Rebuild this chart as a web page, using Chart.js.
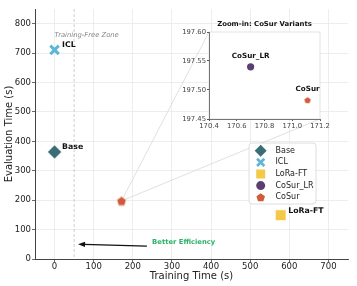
<!DOCTYPE html>
<html><head><meta charset="utf-8">
<script src="https://cdn.jsdelivr.net/npm/chart.js@4/dist/chart.umd.min.js"></script>
<style>
html,body{margin:0;padding:0;background:#fff}
#wrap{position:relative;width:357px;height:286px;overflow:hidden}
#main{position:absolute;left:0;top:0}
#inset{position:absolute;left:176px;top:14px}
</style></head><body>
<div id="wrap">
<canvas id="main" width="357" height="286"></canvas>
<canvas id="inset" width="160" height="132"></canvas>
</div>
<script>
// ---- data ----
const methods = ['Base', 'ICL', 'LoRa-FT', 'CoSur_LR', 'CoSur'];
const trainingTime = [0, 0, 578, 170.7, 171.11];
const evalTime = [364, 711, 149, 197.54, 197.483];
const colors = ['#3b6d75', '#5fb5d5', '#f4c948', '#5b3f70', '#d05a3c'];
const xTicks = [0, 100, 200, 300, 400, 500, 600, 700];
const yTicks = [0, 100, 200, 300, 400, 500, 600, 700, 800];
const insetXTicks = [170.4, 170.6, 170.8, 171.0, 171.2];
const insetYTicks = [197.45, 197.50, 197.55, 197.60];
const labeledMain = ['Base', 'ICL', 'LoRa-FT'];
const labeledInset = ['CoSur_LR', 'CoSur'];
const zoneLineX = 50;
const zoneText = 'Training-Free Zone';
const zoneTextPos = [82, 760];
const arrowFrom = [236, 44];
const arrowTo = [60, 50];
const effText = 'Better Efficiency';
const effTextPos = [330, 57];

Chart.defaults.font.family = "'DejaVu Sans', sans-serif";
Chart.defaults.animation = false;

function pentagon(r, color, stroke) {
  const s = Math.ceil(2 * r + 3);
  const c = document.createElement('canvas');
  c.width = s; c.height = s;
  const g = c.getContext('2d');
  g.beginPath();
  for (let i = 0; i < 5; i++) {
    const a = -Math.PI / 2 + i * 2 * Math.PI / 5;
    const x = s / 2 + r * Math.cos(a), y = s / 2 + 0.6 + r * Math.sin(a);
    i ? g.lineTo(x, y) : g.moveTo(x, y);
  }
  g.closePath();
  g.fillStyle = color; g.fill();
  if (stroke) { g.strokeStyle = stroke; g.lineWidth = 1; g.stroke(); }
  return c;
}

function drawMarker(ctx, idx, x, y, s) {
  const col = colors[idx];
  ctx.save();
  ctx.fillStyle = col; ctx.strokeStyle = col;
  ctx.beginPath();
  if (idx === 0) {
    ctx.moveTo(x, y - s); ctx.lineTo(x + s, y); ctx.lineTo(x, y + s); ctx.lineTo(x - s, y); ctx.closePath(); ctx.fill();
  } else if (idx === 1) {
    const d = s * 0.7; ctx.lineWidth = 2.6;
    ctx.moveTo(x - d, y - d); ctx.lineTo(x + d, y + d); ctx.moveTo(x + d, y - d); ctx.lineTo(x - d, y + d); ctx.stroke();
  } else if (idx === 2) {
    ctx.rect(x - s * 0.75, y - s * 0.75, s * 1.5, s * 1.5); ctx.fill();
  } else if (idx === 3) {
    ctx.arc(x, y, s * 0.75, 0, Math.PI * 2); ctx.fill();
  } else {
    const r = s * 0.75;
    for (let i = 0; i < 5; i++) {
      const a = -Math.PI / 2 + i * 2 * Math.PI / 5;
      const px = x + r * Math.cos(a), py = y + 0.5 + r * Math.sin(a);
      i ? ctx.lineTo(px, py) : ctx.moveTo(px, py);
    }
    ctx.closePath(); ctx.fill();
  }
  ctx.restore();
}

// ---- inset chart ----
const insetStyles = {
  3: {pointStyle: 'circle', pointRadius: 3.6, borderColor: colors[3], borderWidth: 0},
  4: {pointStyle: pentagon(3.4, colors[4]), pointRadius: 4, borderWidth: 0}
};
const insetDecor = {
  id: 'insetDecor',
  beforeDraw(chart) {
    const {ctx, chartArea: a} = chart;
    ctx.save();
    ctx.fillStyle = '#fff';
    ctx.fillRect(a.left, a.top, a.right - a.left, a.bottom - a.top);
    ctx.strokeStyle = '#dcdcdc'; ctx.lineWidth = 0.8;
    ctx.strokeRect(a.left, a.top, a.right - a.left, a.bottom - a.top);
    ctx.fillStyle = '#111';
    ctx.font = "bold 6.9px 'DejaVu Sans'";
    ctx.textAlign = 'center'; ctx.textBaseline = 'middle';
    ctx.fillText('Zoom-in: CoSur Variants', (a.left + a.right) / 2, a.top - 7.5);
    ctx.restore();
  },
  afterDatasetsDraw(chart) {
    const {ctx, scales: {x, y}} = chart;
    ctx.save();
    ctx.fillStyle = '#111';
    ctx.font = "bold 7.2px 'DejaVu Sans'";
    ctx.textAlign = 'center'; ctx.textBaseline = 'middle';
    labeledInset.forEach(n => {
      const i = methods.indexOf(n);
      ctx.fillText(n, x.getPixelForValue(trainingTime[i]), y.getPixelForValue(evalTime[i]) - 10.5);
    });
    ctx.restore();
  }
};
const insetChart = new Chart(document.getElementById('inset'), {
  type: 'scatter',
  data: {
    datasets: [3, 4].map(i => Object.assign({
      label: methods[i],
      data: [{x: trainingTime[i], y: evalTime[i]}],
      backgroundColor: colors[i],
      order: -i
    }, insetStyles[i]))
  },
  options: {
    responsive: false, animation: false, events: [],
    layout: {padding: {top: 18, right: 16, left: 0, bottom: 0}},
    plugins: {legend: {display: false}, tooltip: {enabled: false}},
    scales: {
      x: {
        type: 'linear', min: insetXTicks[0], max: insetXTicks[insetXTicks.length - 1],
        afterBuildTicks: s => { s.ticks = insetXTicks.map(v => ({value: v})); },
        afterFit: s => { s.height = 27; s.paddingLeft = 0; s.paddingRight = 0; },
        grid: {display: true, drawOnChartArea: false, tickLength: 2, tickColor: '#555'},
        border: {color: '#555', width: 0.8},
        ticks: {font: {size: 6.8}, color: '#444', padding: 1, maxRotation: 0, autoSkip: false, callback: v => Number(v).toFixed(1)}
      },
      y: {
        type: 'linear', min: insetYTicks[0], max: insetYTicks[insetYTicks.length - 1],
        afterBuildTicks: s => { s.ticks = insetYTicks.map(v => ({value: v})); },
        afterFit: s => { s.width = 33; s.paddingTop = 0; s.paddingBottom = 0; },
        grid: {display: true, drawOnChartArea: false, tickLength: 2, tickColor: '#555'},
        border: {color: '#555', width: 0.8},
        ticks: {font: {size: 6.8}, color: '#444', padding: 1, autoSkip: false, callback: v => Number(v).toFixed(2)}
      }
    }
  },
  plugins: [insetDecor]
});

// ---- main chart ----
const INSET_OFF = [176, 14];
const mainStyles = [
  {pointStyle: 'rectRot', pointRadius: 7, borderColor: '#fff', borderWidth: 0.6},
  {pointStyle: 'crossRot', pointRadius: 6, borderColor: colors[1], borderWidth: 3},
  {pointStyle: 'rect', pointRadius: 7.5, borderColor: '#fff', borderWidth: 0.6},
  {pointStyle: 'circle', pointRadius: 3.2, borderColor: colors[3], borderWidth: 0},
  {pointStyle: pentagon(5, colors[4], '#f4e0da'), pointRadius: 6, borderWidth: 0}
];
const mainDecor = {
  id: 'mainDecor',
  beforeDatasetsDraw(chart) {
    const {ctx, scales: {x, y}, chartArea: a} = chart;
    ctx.save();
    // training-free boundary
    const zx = x.getPixelForValue(zoneLineX);
    ctx.strokeStyle = '#c8c8c8'; ctx.lineWidth = 0.9; ctx.setLineDash([3, 2]);
    ctx.beginPath(); ctx.moveTo(zx, a.top); ctx.lineTo(zx, a.bottom); ctx.stroke();
    ctx.setLineDash([]);
    // connector lines to inset
    const ci = methods.indexOf('CoSur');
    const px = x.getPixelForValue(trainingTime[ci]), py = y.getPixelForValue(evalTime[ci]);
    const ia = insetChart.chartArea;
    ctx.strokeStyle = '#d8d8d8'; ctx.lineWidth = 0.8;
    ctx.beginPath();
    ctx.moveTo(px, py); ctx.lineTo(ia.left + INSET_OFF[0], ia.top + INSET_OFF[1]);
    ctx.moveTo(px, py); ctx.lineTo(ia.right + INSET_OFF[0], ia.bottom + INSET_OFF[1]);
    ctx.stroke();
    ctx.restore();
  },
  afterDatasetsDraw(chart) {
    const {ctx, scales: {x, y}} = chart;
    ctx.save();
    // point labels
    ctx.fillStyle = '#111';
    ctx.font = "bold 7.8px 'DejaVu Sans'";
    ctx.textAlign = 'left'; ctx.textBaseline = 'middle';
    labeledMain.forEach(n => {
      const i = methods.indexOf(n);
      ctx.fillText(n, x.getPixelForValue(trainingTime[i]) + 7.5, y.getPixelForValue(evalTime[i]) - 4.5);
    });
    // zone text
    ctx.fillStyle = '#8a8a8a';
    ctx.font = "italic 6.8px 'DejaVu Sans'";
    ctx.textAlign = 'center';
    ctx.fillText(zoneText, x.getPixelForValue(zoneTextPos[0]), y.getPixelForValue(zoneTextPos[1]));
    // arrow
    const x1 = x.getPixelForValue(arrowFrom[0]), y1 = y.getPixelForValue(arrowFrom[1]);
    const x2 = x.getPixelForValue(arrowTo[0]), y2 = y.getPixelForValue(arrowTo[1]);
    const ang = Math.atan2(y2 - y1, x2 - x1);
    const hl = 7, hw = 2.6;
    ctx.strokeStyle = '#111'; ctx.fillStyle = '#111'; ctx.lineWidth = 1.2;
    ctx.beginPath(); ctx.moveTo(x1, y1);
    ctx.lineTo(x2 - Math.cos(ang) * hl * 0.8, y2 - Math.sin(ang) * hl * 0.8); ctx.stroke();
    ctx.beginPath();
    ctx.moveTo(x2, y2);
    ctx.lineTo(x2 - Math.cos(ang) * hl - Math.sin(ang) * hw, y2 - Math.sin(ang) * hl + Math.cos(ang) * hw);
    ctx.lineTo(x2 - Math.cos(ang) * hl + Math.sin(ang) * hw, y2 - Math.sin(ang) * hl - Math.cos(ang) * hw);
    ctx.closePath(); ctx.fill();
    // efficiency text
    ctx.fillStyle = '#2fb36a';
    ctx.font = "bold 6.8px 'DejaVu Sans'";
    ctx.textAlign = 'center';
    ctx.fillText(effText, x.getPixelForValue(effTextPos[0]), y.getPixelForValue(effTextPos[1]));
    ctx.restore();
  },
  afterDraw(chart) {
    const ctx = chart.ctx;
    const bx = 249, by = 143, bw = 67, bh = 61, rr = 3;
    ctx.save();
    ctx.beginPath();
    ctx.moveTo(bx + rr, by); ctx.lineTo(bx + bw - rr, by); ctx.quadraticCurveTo(bx + bw, by, bx + bw, by + rr);
    ctx.lineTo(bx + bw, by + bh - rr); ctx.quadraticCurveTo(bx + bw, by + bh, bx + bw - rr, by + bh);
    ctx.lineTo(bx + rr, by + bh); ctx.quadraticCurveTo(bx, by + bh, bx, by + bh - rr);
    ctx.lineTo(bx, by + rr); ctx.quadraticCurveTo(bx, by, bx + rr, by); ctx.closePath();
    ctx.fillStyle = 'rgba(255,255,255,0.85)'; ctx.fill();
    ctx.strokeStyle = '#d6d6d6'; ctx.lineWidth = 0.8; ctx.stroke();
    const sizes = [6, 5.2, 6, 6, 6];
    methods.forEach((m, i) => {
      const yy = by + 7.8 + i * 11.6;
      drawMarker(ctx, i, bx + 11.7, yy, sizes[i]);
      ctx.fillStyle = '#222';
      ctx.font = "8px 'DejaVu Sans'";
      ctx.textAlign = 'left'; ctx.textBaseline = 'middle';
      ctx.fillText(m, bx + 26.5, yy);
    });
    ctx.restore();
  }
};

new Chart(document.getElementById('main'), {
  type: 'scatter',
  data: {
    datasets: methods.map((m, i) => Object.assign({
      label: m,
      data: [{x: trainingTime[i], y: evalTime[i]}],
      backgroundColor: colors[i],
      order: -i
    }, mainStyles[i]))
  },
  options: {
    responsive: false, animation: false, events: [],
    layout: {padding: {top: 5, right: 1, left: 0, bottom: 0}},
    plugins: {legend: {display: false}, tooltip: {enabled: false}},
    scales: {
      x: {
        type: 'linear', min: -50, max: 750,
        afterBuildTicks: s => { s.ticks = xTicks.map(v => ({value: v})); },
        afterFit: s => { s.height = 27; },
        grid: {color: '#e9e9e9', lineWidth: 0.8, tickLength: 3, tickColor: '#444'},
        border: {color: '#444', width: 1},
        ticks: {font: {size: 8.5}, color: '#222', padding: 0, maxRotation: 0, autoSkip: false},
        title: {display: true, text: 'Training Time (s)', font: {size: 10}, color: '#222', padding: {top: 0, bottom: 4}}
      },
      y: {
        type: 'linear', min: 0, max: 850,
        afterBuildTicks: s => { s.ticks = yTicks.map(v => ({value: v})); },
        afterFit: s => { s.width = 35; },
        grid: {color: '#e9e9e9', lineWidth: 0.8, tickLength: 3, tickColor: '#444'},
        border: {color: '#444', width: 1},
        ticks: {font: {size: 8.5}, color: '#222', padding: 1, autoSkip: false},
        title: {display: true, text: 'Evaluation Time (s)', font: {size: 10}, color: '#222', padding: {top: 3, bottom: 0}}
      }
    }
  },
  plugins: [mainDecor]
});
</script>
</body></html>
